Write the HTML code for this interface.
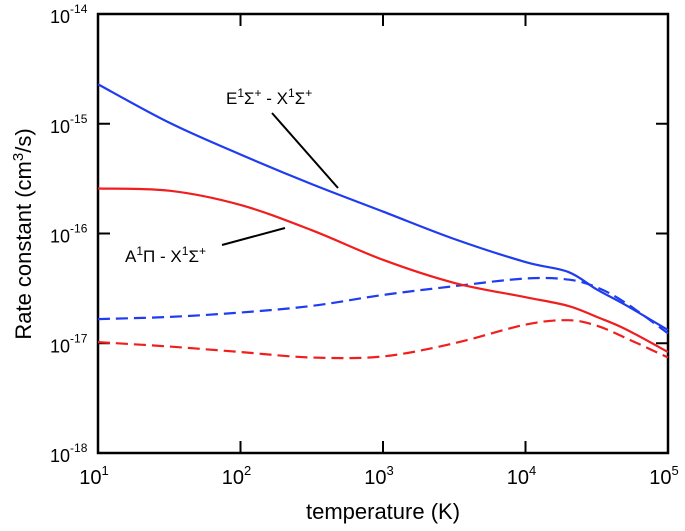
<!DOCTYPE html>
<html><head><meta charset="utf-8"><style>
body{margin:0;background:#fff}
svg text{font-family:"Liberation Sans",Arial,sans-serif;fill:#000}
</style></head><body>
<svg id="c" width="685" height="526">
<g id="frame"></g>
<g id="marks"></g>
<line x1="272" y1="113" x2="338" y2="188" stroke="#000" stroke-width="2"/>
<line x1="222" y1="245" x2="285" y2="228" stroke="#000" stroke-width="2"/>
<text x="226" y="104" font-size="17">E<tspan dy="-7" font-size="12">1</tspan><tspan dy="7">Σ</tspan><tspan dy="-7" font-size="12">+</tspan><tspan dy="7"> - X</tspan><tspan dy="-7" font-size="12">1</tspan><tspan dy="7">Σ</tspan><tspan dy="-7" font-size="12">+</tspan></text>
<text x="125" y="262" font-size="17">A<tspan dy="-7" font-size="12">1</tspan><tspan dy="7">Π - X</tspan><tspan dy="-7" font-size="12">1</tspan><tspan dy="7">Σ</tspan><tspan dy="-7" font-size="12">+</tspan></text>
<text x="383" y="519" font-size="22" text-anchor="middle">temperature (K)</text>
<text transform="translate(31,234) rotate(-90)" font-size="22" text-anchor="middle">Rate constant (cm<tspan dy="-8" font-size="15">3</tspan><tspan dy="8">/s)</tspan></text>
</svg>
<script>
const xTicks=[1,2,3,4,5];
const yTicks=[-14,-15,-16,-17,-18];
const logT=[1,1.5,2,2.5,3,3.5,4,4.3,4.5,4.7,5];
const eSolid=[-14.64,-14.99,-15.28,-15.55,-15.80,-16.05,-16.26,-16.35,-16.51,-16.65,-16.88];
const eDashed=[-16.78,-16.76,-16.72,-16.66,-16.56,-16.48,-16.41,-16.42,-16.49,-16.63,-16.91];
const aSolid=[-15.59,-15.61,-15.74,-15.97,-16.24,-16.45,-16.58,-16.66,-16.76,-16.87,-17.08];
const aDashed=[-16.99,-17.03,-17.08,-17.13,-17.12,-17.00,-16.83,-16.79,-16.84,-16.95,-17.13];
const X0=98,X1=668,Y0=14,Y1=453;
const sx=v=>X0+(v-1)/4*(X1-X0);
const sy=v=>Y0+(-14-v)/4*(Y1-Y0);
const NS="http://www.w3.org/2000/svg";
const frame=document.getElementById('frame'),marks=document.getElementById('marks');
function mk(t,a,p){const e=document.createElementNS(NS,t);for(const k in a)e.setAttribute(k,a[k]);p.appendChild(e);return e;}
const box=mk('rect',{x:X0,y:Y0,width:X1-X0,height:Y1-Y0,fill:'none',stroke:'#000','stroke-width':2.5},frame);


xTicks.forEach(v=>{const x=sx(v);
 const t1=mk('line',{x1:x,y1:Y1,x2:x,y2:Y1-12,stroke:'#000','stroke-width':2},frame);
 
 
 const t2=mk('line',{x1:x,y1:Y0,x2:x,y2:Y0+12,stroke:'#000','stroke-width':2},frame);
 
 
 const tx=mk('text',{x:x-4,y:Y1+31,'font-size':20,'text-anchor':'middle'},frame);
 
 
 tx.innerHTML='10<tspan dy="-9" font-size="13">'+v+'</tspan>';
});
yTicks.forEach(v=>{const y=sy(v);
 const t1=mk('line',{x1:X0,y1:y,x2:X0+12,y2:y,stroke:'#000','stroke-width':2},frame);
 
 
 const t2=mk('line',{x1:X1,y1:y,x2:X1-12,y2:y,stroke:'#000','stroke-width':2},frame);
 
 
 const tx=mk('text',{x:50,y:y+9,'font-size':18},frame);
 
 
 tx.innerHTML='10<tspan dy="-10" font-size="12">'+v+'</tspan>';
});
function path(vals){const p=logT.map((t,i)=>[sx(t),sy(vals[i])]);
 let d='M'+p[0][0]+','+p[0][1];
 for(let i=0;i<p.length-1;i++){const p0=p[i-1]||p[i],p1=p[i],p2=p[i+1],p3=p[i+2]||p2;
  d+=' C'+(p1[0]+(p2[0]-p0[0])/6)+','+(p1[1]+(p2[1]-p0[1])/6)+' '+(p2[0]-(p3[0]-p1[0])/6)+','+(p2[1]-(p3[1]-p1[1])/6)+' '+p2[0]+','+p2[1];}
 return d;}
[[eSolid,'#1f3cf0','','e-state-solid'],[eDashed,'#1f3cf0','12,6','e-state-dashed'],[aSolid,'#f01e1e','','a-state-solid'],[aDashed,'#f01e1e','12,6','a-state-dashed']].forEach(s=>{
 const p=mk('path',{d:path(s[0]),fill:'none',stroke:s[1],'stroke-width':2.2,'stroke-dasharray':s[2]||'none'},marks);
 
 
});
</script>
</body></html>
